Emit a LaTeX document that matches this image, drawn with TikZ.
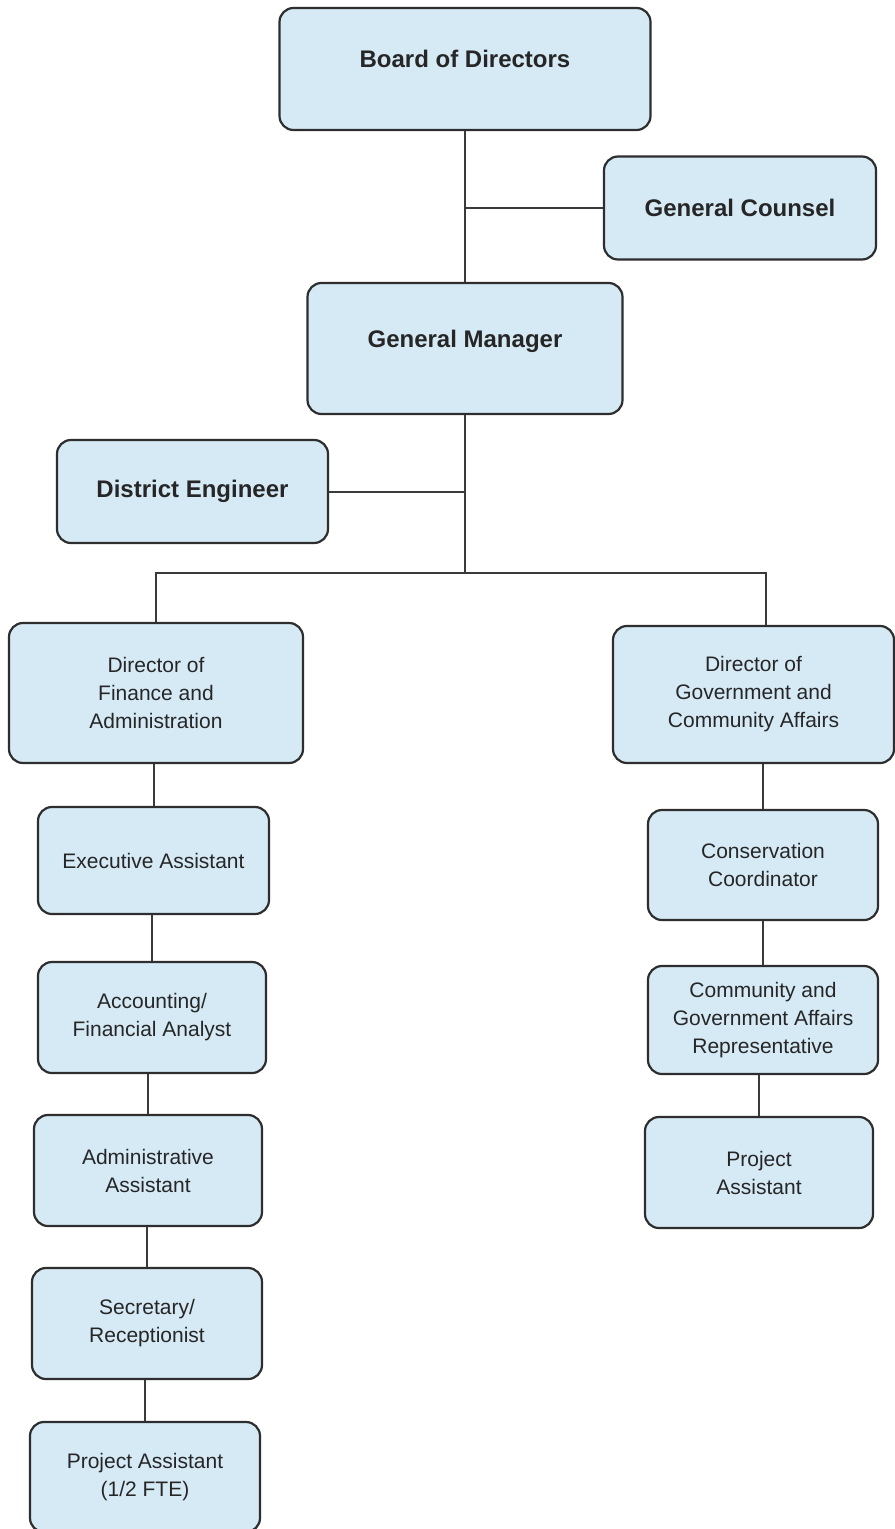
\documentclass[tikz,border=0pt]{standalone}
\usepackage{fontspec}
\setmainfont{Liberation Sans}
\usepackage{tikz}
\usetikzlibrary{positioning,calc}
\definecolor{cFill}{HTML}{D6EAF6}
\definecolor{cEdge}{HTML}{2E2E2E}
\definecolor{cText}{HTML}{262626}
\definecolor{cLine}{HTML}{3A3A3A}
\tikzset{
  blk/.style    ={draw=cEdge,fill=cFill,rounded corners=7pt,line width=1.1pt,
                  align=center,inner sep=2pt,text=cText},
  topblk/.style ={blk,font=\fontsize{12}{14}\selectfont\bfseries},
  subblk/.style ={blk,font=\fontsize{10.5}{14}\selectfont},
  raised/.style ={text depth=10pt},
  conn/.style   ={draw=cLine,line width=1pt},
}

\begin{document}
\begin{tikzpicture}[x=0.5pt, y=-0.5pt]
\useasboundingbox[fill=white] (0,0) rectangle (894,1529);

% ===== board and top management ============================================
\node[topblk,raised,minimum width=185.5pt,minimum height=61pt] (bod) at (465,69)
  {Board of Directors};
\node[topblk,minimum width=136pt,minimum height=51.5pt] (gc) at (740,208)
  {General Counsel};
\node[topblk,raised,minimum width=157.5pt,minimum height=65.5pt] (gm) at (465,348.5)
  {General Manager};
\node[topblk,minimum width=135.5pt,minimum height=51.5pt] (de) at (192.5,491.5)
  {District Engineer};

\draw[conn] (bod.south) -- (gm.north);
\draw[conn] (gc.west) -- (gc.west -| bod.south);
\draw[conn] (de.east) -- (de.east -| gm.south);

% ===== directors ===========================================================
\node[subblk,minimum width=147pt,minimum height=70pt] (dfa) at (156,693)
  {Director of\\Finance and\\Administration};
\node[subblk,minimum width=140.5pt,minimum height=68.5pt] (dga) at (753.5,694.5)
  {Director of\\Government and\\Community Affairs};

\coordinate (split) at (465,573);
\coordinate (dgtap) at ($(dga.north)+(12,0)$);
\draw[conn] (gm.south) -- (split);
\draw[conn] (dfa.north) -- (dfa.north |- split) -- (dgtap |- split)
  -- (dgtap);

% ===== finance and administration staff ====================================
\node[subblk,minimum width=115.5pt,minimum height=53.5pt] (ea) at (153.5,860.5)
  {Executive Assistant};
\node[subblk,minimum width=114pt,minimum height=55.5pt] (acc) at (152,1017.5)
  {Accounting/\\Financial Analyst};
\node[subblk,minimum width=114pt,minimum height=55.5pt] (aa) at (148,1170.5)
  {Administrative\\Assistant};
\node[subblk,minimum width=115pt,minimum height=55.5pt] (sr) at (147,1323.5)
  {Secretary/\\Receptionist};
\node[subblk,minimum width=115pt,minimum height=55pt] (pa1) at (145,1477)
  {Project Assistant\\(1/2 FTE)};

% ===== government and community affairs staff ==============================
\node[subblk,minimum width=115pt,minimum height=55pt] (cc) at (763,865)
  {Conservation\\Coordinator};
\node[subblk,minimum width=115pt,minimum height=54pt] (cgr) at (763,1020)
  {Community and\\Government Affairs\\Representative};
\node[subblk,minimum width=114pt,minimum height=55.5pt] (pa2) at (759,1172.5)
  {Project\\Assistant};

\foreach \a/\b in {dfa/ea,ea/acc,acc/aa,aa/sr,sr/pa1,dga/cc,cc/cgr,cgr/pa2}{%
  \draw[conn] (\b.north) -- (\b.north |- \a.south);
}
\end{tikzpicture}
\end{document}
